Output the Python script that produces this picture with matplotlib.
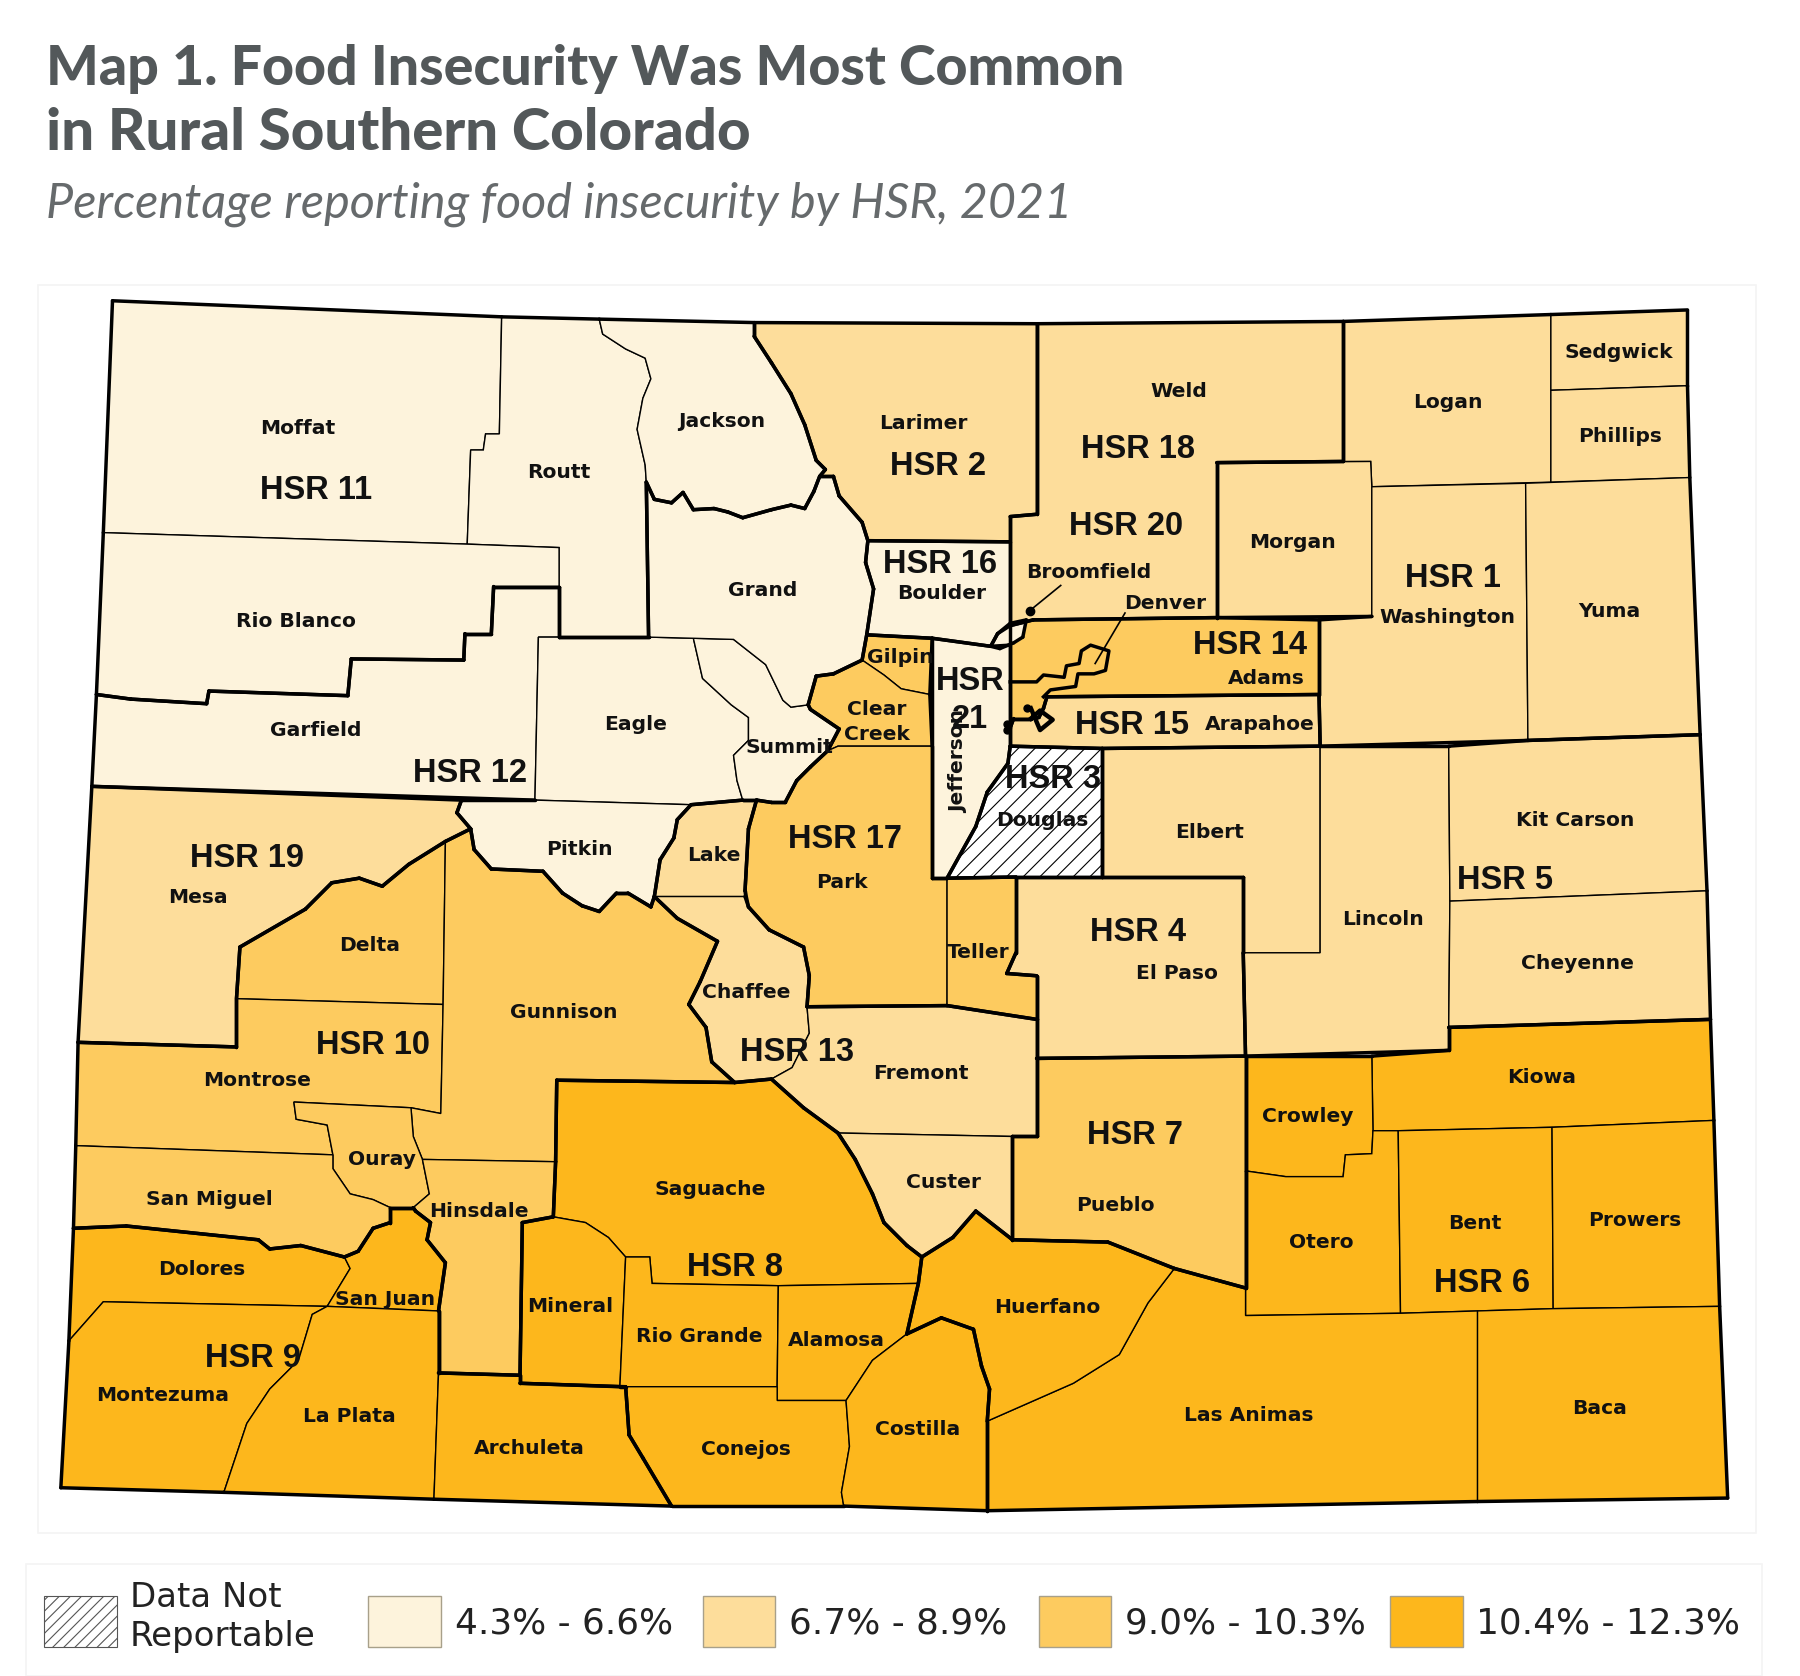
from __future__ import annotations

import matplotlib
matplotlib.use("Agg")
import matplotlib.pyplot as plt
import numpy as np
from matplotlib.patches import Polygon, Rectangle

# county outlines, traced in a 1568 wide copy of the map
county_outlines = {
    "Moffat": [(98, 262), (437, 276), (435, 378), (423, 378), (421, 392), (410, 392), (407, 474), (90, 464)],
    "Routt": [(437, 276), (522, 278), (525, 291), (545, 304), (562, 312), (567, 330), (560, 347), (555, 374), (562, 405), (563, 420), (565, 555), (487, 555), (487, 477), (407, 474), (410, 392), (421, 392), (423, 378), (435, 378)],
    "Rio Blanco": [(90, 464), (407, 474), (487, 477), (487, 511), (430, 511), (428, 552), (405, 552), (404, 575), (306, 574), (303, 606), (182, 602), (180, 613), (114, 609), (84, 605)],
    "Garfield": [(84, 605), (114, 609), (180, 613), (182, 602), (303, 606), (306, 574), (404, 575), (405, 552), (428, 552), (430, 511), (487, 511), (487, 555), (469, 555), (466, 697), (80, 685)],
    "Eagle": [(469, 555), (487, 555), (565, 555), (604, 556), (612, 591), (637, 614), (652, 625), (652, 645), (639, 658), (642, 680), (647, 697), (602, 701), (466, 697)],
    "Summit": [(604, 556), (639, 557), (667, 579), (682, 610), (689, 616), (704, 614), (706, 618), (731, 635), (721, 654), (706, 668), (694, 680), (684, 699), (672, 699), (659, 697), (647, 697), (642, 680), (639, 658), (652, 645), (652, 625), (637, 614), (612, 591)],
    "Grand": [(563, 420), (570, 435), (585, 438), (595, 429), (604, 444), (622, 443), (634, 446), (647, 451), (672, 444), (689, 440), (701, 443), (709, 428), (714, 415), (726, 415), (731, 432), (751, 455), (756, 471), (754, 490), (761, 513), (755, 553), (751, 575), (726, 587), (711, 589), (704, 614), (689, 616), (682, 610), (667, 579), (639, 557), (604, 556), (565, 555)],
    "Jackson": [(522, 278), (657, 281), (657, 293), (672, 316), (689, 343), (701, 370), (711, 401), (719, 409), (714, 415), (709, 428), (701, 443), (689, 440), (672, 444), (647, 451), (634, 446), (622, 443), (604, 444), (595, 429), (585, 438), (570, 435), (563, 420), (562, 405), (555, 374), (560, 347), (567, 330), (562, 312), (545, 304), (525, 291)],
    "Pitkin": [(402, 697), (466, 697), (602, 701), (590, 714), (587, 730), (575, 749), (570, 781), (567, 790), (547, 778), (537, 778), (522, 794), (507, 789), (490, 778), (473, 759), (428, 757), (413, 740), (410, 722), (398, 708)],
    "Larimer": [(657, 281), (903, 282), (903, 448), (880, 450), (880, 472), (756, 471), (751, 455), (731, 432), (726, 415), (714, 415), (719, 409), (711, 401), (701, 370), (689, 343), (672, 316), (657, 293)],
    "Weld": [(903, 282), (1170, 280), (1170, 402), (1060, 403), (1060, 538), (900, 540), (880, 545), (880, 450), (903, 448)],
    "Logan": [(1170, 280), (1351, 274), (1351, 340), (1351, 420), (1195, 424), (1194, 402), (1170, 402)],
    "Sedgwick": [(1351, 274), (1470, 270), (1470, 336), (1351, 340)],
    "Phillips": [(1351, 340), (1470, 336), (1472, 416), (1351, 420)],
    "Morgan": [(1060, 403), (1194, 402), (1195, 424), (1195, 537), (1060, 538)],
    "Washington": [(1195, 424), (1329, 421), (1331, 645), (1150, 650), (1149, 605), (1149, 540), (1195, 537)],
    "Yuma": [(1329, 421), (1472, 416), (1481, 640), (1331, 645)],
    "Boulder": [(756, 471), (880, 472), (880, 545), (869, 552), (863, 563), (812, 556), (755, 553), (761, 513), (754, 490)],
    "Broomfield": [(863, 563), (869, 552), (880, 543), (894, 540), (891, 555), (883, 560), (871, 565)],
    "Jefferson": [(812, 556), (863, 563), (880, 562), (880, 650), (878, 665), (860, 690), (850, 720), (825, 765), (812, 765)],
    "Adams": [(880, 545), (900, 540), (1060, 538), (1149, 540), (1149, 605), (912, 607), (909, 617), (905, 625), (898, 626), (883, 626), (880, 634)],
    "Arapahoe": [(880, 634), (883, 626), (898, 626), (905, 625), (909, 617), (912, 607), (1149, 605), (1150, 650), (960, 652), (880, 650)],
    "Douglas": [(880, 650), (960, 652), (960, 764), (885, 764), (825, 765), (850, 720), (860, 690), (878, 665)],
    "Gilpin": [(755, 553), (812, 556), (810, 605), (785, 600), (770, 588), (751, 575)],
    "Clear Creek": [(751, 575), (770, 588), (785, 600), (810, 605), (812, 650), (730, 650), (721, 654), (731, 635), (706, 618), (704, 614), (711, 589), (726, 587)],
    "Park": [(659, 697), (672, 699), (684, 699), (694, 680), (706, 668), (721, 654), (730, 650), (812, 650), (812, 765), (825, 765), (825, 876), (703, 877), (705, 850), (700, 825), (670, 810), (652, 790), (649, 776), (652, 722)],
    "Teller": [(825, 765), (885, 764), (885, 830), (877, 848), (903, 850), (903, 888), (825, 876)],
    "El Paso": [(885, 764), (1083, 764), (1083, 830), (1085, 920), (903, 922), (903, 888), (903, 850), (877, 848), (885, 830)],
    "Elbert": [(960, 652), (1150, 650), (1150, 830), (1083, 830), (1083, 764), (960, 764)],
    "Lincoln": [(1150, 650), (1262, 650), (1263, 785), (1262, 895), (1262, 915), (1085, 920), (1083, 830), (1150, 830)],
    "Kit Carson": [(1262, 650), (1331, 645), (1481, 640), (1487, 776), (1263, 785)],
    "Cheyenne": [(1263, 785), (1487, 776), (1490, 888), (1262, 895)],
    "Kiowa": [(1195, 920), (1262, 915), (1262, 895), (1490, 888), (1493, 976), (1352, 982), (1218, 985), (1196, 985)],
    "Crowley": [(1085, 920), (1195, 920), (1196, 985), (1195, 1005), (1172, 1006), (1170, 1025), (1120, 1025), (1085, 1020)],
    "Otero": [(1085, 1020), (1120, 1025), (1170, 1025), (1172, 1006), (1195, 1005), (1196, 985), (1218, 985), (1220, 1144), (1085, 1146)],
    "Bent": [(1218, 985), (1352, 982), (1353, 1140), (1287, 1142), (1220, 1144)],
    "Prowers": [(1352, 982), (1493, 976), (1498, 1138), (1353, 1140)],
    "Baca": [(1287, 1142), (1353, 1140), (1498, 1138), (1505, 1305), (1287, 1308)],
    "Las Animas": [(1023, 1105), (1085, 1122), (1085, 1146), (1220, 1144), (1287, 1142), (1287, 1308), (860, 1316), (860, 1238), (935, 1205), (975, 1180), (1000, 1135)],
    "Huerfano": [(803, 1095), (830, 1078), (850, 1055), (882, 1080), (965, 1082), (1023, 1105), (1000, 1135), (975, 1180), (935, 1205), (860, 1238), (862, 1210), (855, 1190), (848, 1158), (820, 1148), (790, 1162), (800, 1118)],
    "Pueblo": [(882, 990), (903, 990), (903, 922), (1085, 920), (1085, 1020), (1085, 1122), (1023, 1105), (965, 1082), (882, 1080)],
    "Custer": [(730, 987), (882, 990), (882, 1080), (850, 1055), (830, 1078), (803, 1095), (790, 1085), (770, 1065), (760, 1040), (745, 1010)],
    "Fremont": [(703, 877), (825, 876), (903, 888), (903, 922), (903, 990), (882, 990), (730, 987), (700, 965), (672, 940), (690, 930), (705, 900)],
    "Chaffee": [(570, 781), (649, 781), (652, 790), (670, 810), (700, 825), (705, 850), (703, 877), (705, 900), (690, 930), (672, 940), (640, 943), (620, 925), (615, 895), (600, 875), (610, 855), (625, 820), (590, 800)],
    "Lake": [(602, 701), (647, 697), (659, 697), (652, 722), (649, 776), (649, 781), (570, 781), (575, 749), (587, 730), (590, 714)],
    "Gunnison": [(388, 733), (410, 722), (413, 740), (428, 757), (473, 759), (490, 778), (507, 789), (522, 794), (537, 778), (547, 778), (567, 790), (570, 781), (590, 800), (625, 820), (610, 855), (600, 875), (615, 895), (620, 925), (640, 943), (485, 941), (484, 1012), (368, 1010), (360, 990), (358, 965), (384, 970), (386, 875)],
    "Mesa": [(80, 685), (402, 697), (398, 708), (410, 722), (388, 733), (356, 753), (333, 772), (313, 765), (289, 769), (266, 792), (209, 825), (206, 870), (206, 912), (68, 908)],
    "Delta": [(209, 825), (266, 792), (289, 769), (313, 765), (333, 772), (356, 753), (388, 733), (386, 875), (206, 870)],
    "Montrose": [(68, 908), (206, 912), (206, 870), (386, 875), (384, 970), (358, 965), (256, 960), (258, 975), (285, 980), (290, 1006), (66, 998)],
    "Ouray": [(256, 960), (358, 965), (360, 990), (368, 1010), (374, 1040), (360, 1052), (340, 1052), (325, 1045), (305, 1040), (290, 1018), (290, 1006), (285, 980), (258, 975)],
    "San Miguel": [(66, 998), (290, 1006), (290, 1018), (305, 1040), (325, 1045), (340, 1052), (340, 1065), (325, 1070), (312, 1090), (300, 1095), (262, 1085), (235, 1088), (225, 1080), (110, 1068), (64, 1070)],
    "Hinsdale": [(368, 1010), (484, 1012), (482, 1060), (455, 1065), (453, 1198), (382, 1196), (382, 1142), (388, 1100), (372, 1080), (375, 1065), (362, 1055), (360, 1052), (374, 1040)],
    "Dolores": [(64, 1070), (110, 1068), (225, 1080), (235, 1088), (262, 1085), (300, 1095), (305, 1105), (285, 1138), (90, 1134), (60, 1168)],
    "San Juan": [(300, 1095), (312, 1090), (325, 1070), (340, 1065), (340, 1052), (360, 1052), (362, 1055), (375, 1065), (372, 1080), (388, 1100), (382, 1142), (285, 1138), (305, 1105)],
    "Montezuma": [(90, 1134), (285, 1138), (272, 1145), (260, 1185), (235, 1210), (215, 1240), (195, 1300), (53, 1296), (60, 1168)],
    "La Plata": [(285, 1138), (382, 1142), (382, 1196), (378, 1306), (195, 1300), (215, 1240), (235, 1210), (260, 1185), (272, 1145)],
    "Archuleta": [(382, 1196), (453, 1198), (453, 1205), (545, 1208), (548, 1250), (560, 1270), (585, 1312), (378, 1306)],
    "Mineral": [(455, 1065), (482, 1060), (510, 1065), (530, 1078), (545, 1095), (540, 1208), (453, 1205), (453, 1198)],
    "Saguache": [(485, 941), (640, 943), (672, 940), (700, 965), (730, 987), (745, 1010), (760, 1040), (770, 1065), (790, 1085), (803, 1095), (800, 1118), (678, 1120), (568, 1118), (566, 1095), (545, 1095), (530, 1078), (510, 1065), (482, 1060), (484, 1012)],
    "Rio Grande": [(545, 1095), (566, 1095), (568, 1118), (678, 1120), (677, 1208), (545, 1208), (540, 1208)],
    "Alamosa": [(678, 1120), (800, 1118), (790, 1162), (760, 1185), (737, 1220), (677, 1220), (677, 1208)],
    "Conejos": [(545, 1208), (677, 1208), (677, 1220), (737, 1220), (740, 1260), (733, 1300), (735, 1312), (585, 1312), (560, 1270), (548, 1250)],
    "Costilla": [(737, 1220), (760, 1185), (790, 1162), (820, 1148), (848, 1158), (855, 1190), (862, 1210), (860, 1238), (860, 1316), (735, 1312), (733, 1300), (740, 1260)],
}

hsr_counties = {
    "1": ["Logan", "Sedgwick", "Phillips", "Morgan", "Washington", "Yuma"],
    "2": ["Larimer"],
    "3": ["Douglas"],
    "4": ["El Paso"],
    "5": ["Elbert", "Lincoln", "Kit Carson", "Cheyenne"],
    "6": ["Kiowa", "Crowley", "Otero", "Bent", "Prowers", "Baca", "Las Animas", "Huerfano"],
    "7": ["Pueblo"],
    "8": ["Saguache", "Mineral", "Rio Grande", "Alamosa", "Conejos", "Costilla"],
    "9": ["Dolores", "San Juan", "Montezuma", "La Plata", "Archuleta"],
    "10": ["Delta", "Montrose", "Gunnison", "Ouray", "San Miguel", "Hinsdale"],
    "11": ["Moffat", "Routt", "Rio Blanco", "Jackson"],
    "12": ["Garfield", "Eagle", "Summit", "Grand", "Pitkin"],
    "13": ["Lake", "Chaffee", "Fremont", "Custer"],
    "14": ["Adams"],
    "15": ["Arapahoe"],
    "16": ["Boulder"],
    "17": ["Gilpin", "Clear Creek", "Park", "Teller"],
    "18": ["Weld"],
    "19": ["Mesa"],
    "20": ["Broomfield"],
    "21": ["Jefferson"],
}

# class of each HSR, None means not reportable
hsr_class = {
    "1": 1, "2": 1, "3": None, "4": 1, "5": 1, "6": 3, "7": 2, "8": 3, "9": 3, "10": 2, "11": 0,
    "12": 0, "13": 1, "14": 2, "15": 1, "16": 0, "17": 2, "18": 1, "19": 1, "20": 0, "21": 0,
}

class_labels = ["4.3% - 6.6%", "6.7% - 8.9%", "9.0% - 10.3%", "10.4% - 12.3%"]
class_colors = ["#FDF3DC", "#FDDD9B", "#FDCB5F", "#FDB71C"]

# thick line around Denver, inside the Adams block
denver_line = [(880, 594), (903, 594), (909, 588), (927, 590), (929, 580), (940, 578), (942, 567), (950, 562), (966, 567), (963, 584), (953, 587), (939, 587), (937, 598), (915, 601), (909, 607)]
denver_pos = [(898, 617), (906, 636), (917, 627), (906, 619), (898, 626)]

county_label_pos = {
    "Moffat": (259, 373), "Routt": (487, 412), "Jackson": (629, 367), "Larimer": (804, 369), "Weld": (1027, 341),
    "Logan": (1261, 351), "Sedgwick": (1410, 307), "Phillips": (1411, 380), "Morgan": (1126, 473), "Grand": (664, 514),
    "Boulder": (820, 517), "Broomfield": (948, 499), "Denver": (1015, 526), "Washington": (1261, 538), "Yuma": (1402, 533),
    "Rio Blanco": (258, 541), "Garfield": (275, 636), "Eagle": (554, 631), "Gilpin": (784, 573), "Clear": (764, 618),
    "Creek": (764, 640), "Summit": (688, 651), "Adams": (1103, 591), "Arapahoe": (1097, 631), "Douglas": (908, 715),
    "Elbert": (1054, 725), "Kit Carson": (1372, 715), "Pitkin": (505, 740), "Lake": (622, 745), "Mesa": (172, 782),
    "Park": (733, 769), "Delta": (322, 824), "Teller": (852, 830), "Lincoln": (1205, 801), "Cheyenne": (1374, 839),
    "El Paso": (1025, 848), "Chaffee": (650, 865), "Gunnison": (491, 882), "Fremont": (802, 935), "Montrose": (224, 941),
    "Kiowa": (1343, 939), "Crowley": (1139, 973), "Ouray": (333, 1010), "Custer": (822, 1030), "Saguache": (619, 1036),
    "San Miguel": (182, 1045), "Pueblo": (972, 1050), "Hinsdale": (417, 1055), "Prowers": (1424, 1063), "Bent": (1285, 1066),
    "Otero": (1151, 1082), "Dolores": (176, 1106), "San Juan": (335, 1132), "Mineral": (497, 1138), "Huerfano": (912, 1139),
    "Rio Grande": (609, 1164), "Alamosa": (729, 1168), "Montezuma": (142, 1216), "Baca": (1393, 1227), "Las Animas": (1088, 1233),
    "La Plata": (304, 1234), "Costilla": (799, 1245), "Archuleta": (461, 1262), "Conejos": (650, 1263),
}

hsr_label_pos = {
    "HSR 11": (275, 427), "HSR 2": (817, 406), "HSR 18": (991, 392), "HSR 20": (981, 459), "HSR 1": (1266, 504),
    "HSR 16": (819, 492), "HSR 14": (1089, 562), "HSR 15": (986, 632), "HSR": (845, 594), "21": (845, 627),
    "HSR 3": (917, 679), "HSR 12": (409, 674), "HSR 17": (736, 731), "HSR 19": (215, 748), "HSR 5": (1311, 767),
    "HSR 4": (991, 812), "HSR 10": (325, 911), "HSR 13": (694, 917), "HSR 7": (989, 989), "HSR 8": (640, 1104),
    "HSR 6": (1291, 1118), "HSR 9": (220, 1183),
}


def split_edges(points, others):
    """Break a closed ring wherever another outline of the group touches it."""
    edges = []
    for a, b in zip(points, points[1:] + points[:1]):
        a_arr, b_arr = np.array(a, float), np.array(b, float)
        seg = b_arr - a_arr
        cuts = [a, b]
        for p in others:
            t = np.dot(np.array(p) - a_arr, seg) / max(np.dot(seg, seg), 1e-9)
            if 0.0 < t < 1.0 and np.linalg.norm(a_arr + t * seg - p) < 1.5:
                cuts.append(p)
        cuts.sort(key=lambda p: np.dot(np.array(p) - a_arr, seg))
        edges.extend(zip(cuts, cuts[1:]))
    return edges


def hsr_border_edges(names):
    rings = [county_outlines[name] for name in names]
    group_points = {p for ring in rings for p in ring}
    counts = {}
    for ring in rings:
        for a, b in split_edges(ring, group_points):
            key = (min(a, b), max(a, b))
            counts[key] = counts.get(key, 0) + 1
    return [edge for edge, n in counts.items() if n == 1]


plt.rcParams["hatch.linewidth"] = 0.8
fig = plt.figure(figsize=(18, 16.76), dpi=100)
ax = fig.add_axes([0, 0, 1, 1])
ax.set_xlim(0, 1568)
ax.set_ylim(1460, 0)
ax.axis("off")

# faint panels behind the map and the legend
ax.add_patch(Rectangle((33, 248), 1497, 1087, fc="white", ec="#F4F4F4", lw=1.2, zorder=0))
ax.add_patch(Rectangle((23, 1362), 1512, 98, fc="white", ec="#F4F4F4", lw=1.2, zorder=0))

for hsr, names in hsr_counties.items():
    cls = hsr_class[hsr]
    for name in names:
        if cls is None:
            patch = Polygon(county_outlines[name], fc="white", ec="black", hatch="//", lw=1.0, zorder=2)
        else:
            patch = Polygon(county_outlines[name], fc=class_colors[cls], ec="black", lw=1.0, zorder=2)
        ax.add_patch(patch)

for hsr, names in hsr_counties.items():
    for a, b in hsr_border_edges(names):
        ax.plot([a[0], b[0]], [a[1], b[1]], color="black", lw=2.5, solid_capstyle="round", zorder=3)

ax.plot(*zip(*denver_line), color="black", lw=2.5, zorder=3)
ax.plot(*zip(*denver_pos), color="black", lw=3.2, zorder=3)
ax.plot([877, 877, 895], [631, 636, 617], "o", color="black", ms=5, zorder=3)
ax.plot([897], [532], "o", color="black", ms=6, zorder=3)
ax.plot([924, 897], [510, 532], color="black", lw=1.2, zorder=3)
ax.plot([980, 954], [534, 578], color="black", lw=1.2, zorder=3)

for name, (x, y) in county_label_pos.items():
    ax.text(x, y, name, fontsize=14.6, fontweight="bold", color="#111111", ha="center", va="center", zorder=5)
ax.text(835, 663, "Jefferson", fontsize=14.6, fontweight="bold", color="#111111", rotation=90, ha="center", va="center", zorder=5)

for name, (x, y) in hsr_label_pos.items():
    ax.text(x, y, name, fontsize=23.5, fontweight="bold", family="Liberation Sans", color="#111111", ha="center", va="center", zorder=6)

ax.text(40, 60, "Map 1. Food Insecurity Was Most Common", fontsize=40, fontweight="black", family="Lato", color="#53585A", va="center")
ax.text(40, 116, "in Rural Southern Colorado", fontsize=41.9, fontweight="black", family="Lato", color="#53585A", va="center")
ax.text(40, 178, "Percentage reporting food insecurity by HSR, 2021", fontsize=34.9, style="italic", family="Lato", color="#666A6C", va="center")

# legend
swatch_x = [321, 612, 905, 1211]
ax.add_patch(Rectangle((38, 1390), 64, 45, fc="white", ec="#555555", hatch="///", lw=0.8, zorder=2))
ax.text(113, 1392, "Data Not", fontsize=24.5, color="#222222", va="center")
ax.text(113, 1426, "Reportable", fontsize=24.5, color="#222222", va="center")
for x, color, label in zip(swatch_x, class_colors, class_labels):
    ax.add_patch(Rectangle((x, 1390), 63, 45, fc=color, ec="#A8A08A", lw=1.0, zorder=2))
    ax.text(x + 75, 1414, label, fontsize=25.8, color="#222222", va="center")

fig.savefig("out.png", dpi=100, facecolor="white")
